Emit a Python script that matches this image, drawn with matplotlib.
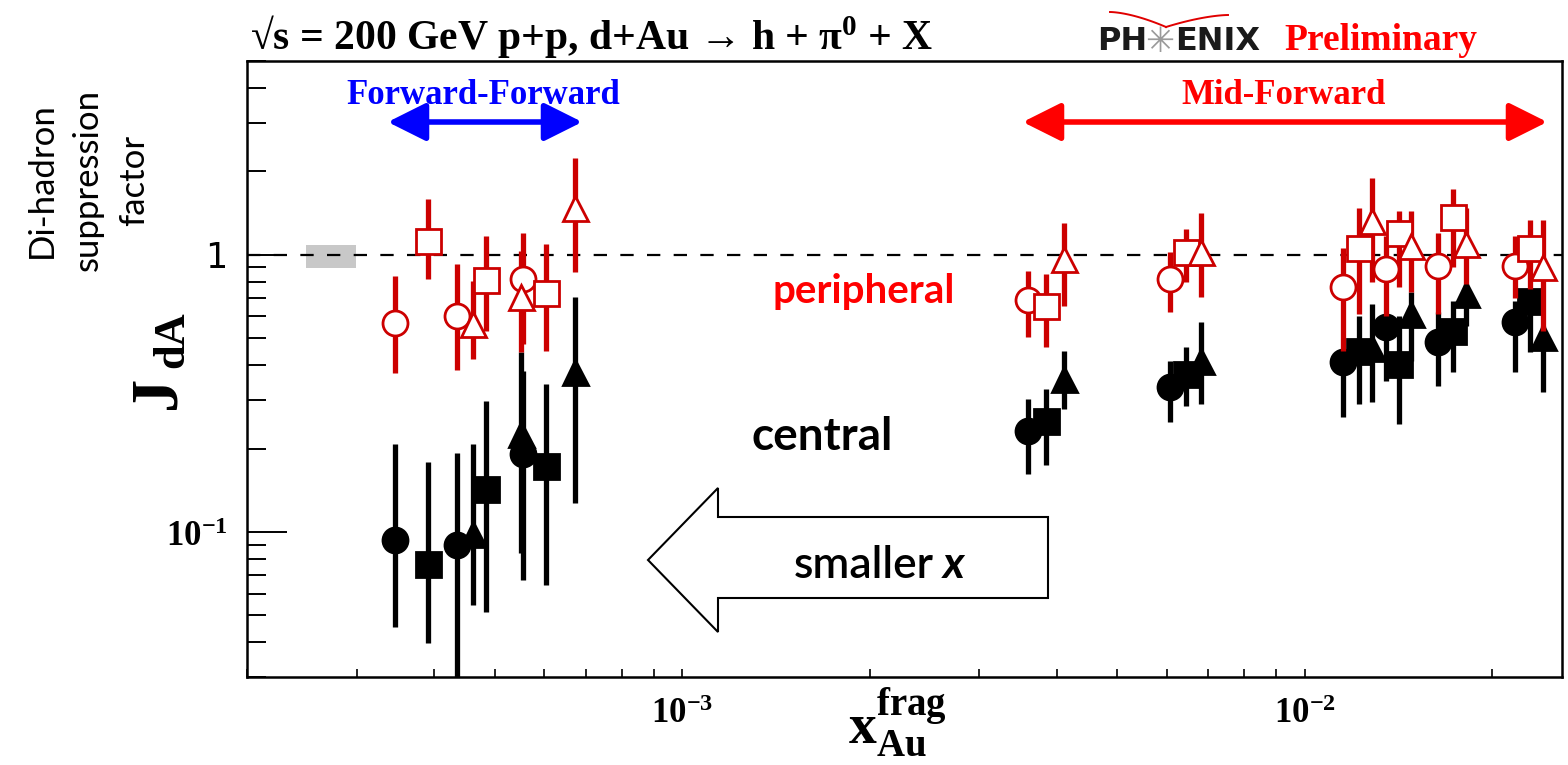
import numpy as np
import matplotlib
matplotlib.use("Agg")
import matplotlib.pyplot as plt
from matplotlib.patches import FancyArrowPatch, Polygon
from matplotlib.ticker import LogLocator, NullFormatter, FixedLocator, FixedFormatter

# ---------- data: x_Au^frag bins (FF: 3 bins, MF: 6 bins) ----------
x_circ = [3.46e-4, 4.35e-4, 5.55e-4, 3.60e-3, 6.08e-3, 1.153e-2, 1.353e-2, 1.638e-2, 2.176e-2]
x_sq   = [3.90e-4, 4.84e-4, 6.04e-4, 3.84e-3, 6.45e-3, 1.221e-2, 1.416e-2, 1.730e-2, 2.300e-2]
x_tri  = [4.61e-4, 5.52e-4, 6.73e-4, 4.10e-3, 6.82e-3, 1.282e-2, 1.479e-2, 1.816e-2, 2.416e-2]

# peripheral d+Au (open red)
per_circ    = [0.569, 0.603, 0.818, 0.687, 0.818, 0.763, 0.888, 0.913, 0.913]
per_circ_lo = [0.376, 0.385, 0.478, 0.504, 0.620, 0.450, 0.603, 0.611, 0.700]
per_circ_hi = [0.840, 0.928, 1.203, 0.876, 1.020, 1.062, 1.170, 1.200, 1.170]
per_sq      = [1.120, 0.813, 0.726, 0.655, 1.020, 1.062, 1.200, 1.363, 1.062]
per_sq_lo   = [0.820, 0.532, 0.451, 0.464, 0.795, 0.611, 0.763, 0.900, 0.750]
per_sq_hi   = [1.590, 1.170, 1.095, 0.852, 1.237, 1.480, 1.440, 1.720, 1.330]
per_tri     = [0.563, 0.702, 1.480, 0.965, 1.020, 1.326, 1.077, 1.093, 0.900]
per_tri_lo  = [0.422, 0.445, 0.864, 0.655, 0.702, 0.795, 0.732, 0.784, 0.530]
per_tri_hi  = [0.806, 1.034, 2.230, 1.307, 1.420, 1.900, 1.440, 1.480, 1.340]

# central d+Au (filled black)
cen_circ    = [0.0934, 0.0897, 0.191, 0.232, 0.333, 0.409, 0.547, 0.483, 0.570]
cen_circ_lo = [0.0455, 0.0250, 0.067, 0.162, 0.249, 0.260, 0.352, 0.337, 0.377]
cen_circ_hi = [0.207, 0.192, 0.382, 0.302, 0.415, 0.457, 0.603, 0.620, 0.683]
cen_sq      = [0.0765, 0.143, 0.173, 0.252, 0.372, 0.451, 0.404, 0.532, 0.683]
cen_sq_lo   = [0.0399, 0.0515, 0.0643, 0.174, 0.286, 0.290, 0.245, 0.377, 0.445]
cen_sq_hi   = [0.179, 0.298, 0.343, 0.328, 0.464, 0.603, 0.603, 0.683, 0.752]
cen_tri     = [0.0986, 0.226, 0.377, 0.357, 0.415, 0.463, 0.611, 0.722, 0.504]
cen_tri_lo  = [0.0545, 0.0837, 0.127, 0.278, 0.290, 0.294, 0.415, 0.555, 0.319]
cen_tri_hi  = [0.208, 0.445, 0.702, 0.451, 0.570, 0.665, 0.732, 0.784, 0.555]

# normalisation uncertainty box at J=1
sys_x = [2.49e-4, 2.99e-4]
sys_lo = [0.895, 0.895]
sys_hi = [1.085, 1.085]

y_ticks = [0.1, 1]
y_ticklabels = [r"$10^{-1}$", "1"]
x_ticks = [1e-3, 1e-2]
x_ticklabels = [r"$10^{-3}$", r"$10^{-2}$"]

# ---------- style ----------
SERIF = "Liberation Serif"
SANS = "Lato"
plt.rcParams["mathtext.fontset"] = "custom"
plt.rcParams["mathtext.rm"] = "Liberation Serif:bold"
plt.rcParams["mathtext.bf"] = "Liberation Serif:bold"
plt.rcParams["mathtext.it"] = "Liberation Serif:bold:italic"

W, H = 1568, 765
fig = plt.figure(figsize=(W / 100, H / 100), dpi=100)

def fx(px): return px / W
def fy(py): return 1 - py / H

ax = fig.add_axes([fx(247), fy(677), fx(1562) - fx(247), fy(61) - fy(677)])
ax.set_xscale("log"); ax.set_yscale("log")
ax.set_xlim(2.0e-4, 2.59e-2)
ax.set_ylim(0.03, 5)

RED = "#cc0000"

def draw(x, y, lo, hi, marker, color, filled):
    y = np.asarray(y); err = [y - np.asarray(lo), np.asarray(hi) - y]
    ax.errorbar(x, y, yerr=err, fmt=marker, ms=18, color=color, ecolor=color,
                elinewidth=3.8, capsize=0, mec=color, mew=2.0,
                mfc=color if filled else "white", zorder=3 if filled else 4)

draw(x_circ, cen_circ, cen_circ_lo, cen_circ_hi, "o", "black", True)
draw(x_sq,   cen_sq,   cen_sq_lo,   cen_sq_hi,   "s", "black", True)
draw(x_tri,  cen_tri,  cen_tri_lo,  cen_tri_hi,  "^", "black", True)
draw(x_circ, per_circ, per_circ_lo, per_circ_hi, "o", RED, False)
draw(x_sq,   per_sq,   per_sq_lo,   per_sq_hi,   "s", RED, False)
draw(x_tri,  per_tri,  per_tri_lo,  per_tri_hi,  "^", RED, False)

ax.fill_between(sys_x, sys_lo, sys_hi, color="#c8c8c8", lw=0, zorder=1)
ax.axhline(1, color="black", lw=1.6, ls=(0, (6, 6)), zorder=2)

# ---------- axes ----------
for s in ax.spines.values():
    s.set_linewidth(1.8)
ax.yaxis.set_major_locator(FixedLocator(y_ticks))
ax.yaxis.set_major_formatter(FixedFormatter(y_ticklabels))
ax.yaxis.set_minor_locator(LogLocator(base=10, subs=np.arange(2, 10)))
ax.yaxis.set_minor_formatter(NullFormatter())
ax.xaxis.set_major_locator(FixedLocator(x_ticks))
ax.xaxis.set_major_formatter(FixedFormatter(x_ticklabels))
ax.xaxis.set_minor_locator(LogLocator(base=10, subs=np.arange(2, 10)))
ax.xaxis.set_minor_formatter(NullFormatter())
ax.tick_params(axis="y", which="major", direction="in", length=29, width=1.4,
               labelsize=25, pad=14, right=False)
ax.tick_params(axis="y", which="minor", direction="in", length=14, width=1.4, right=False)
ax.tick_params(axis="x", which="both", direction="in", length=6, width=1.2,
               labelsize=25, pad=14, top=False)

# ---------- labels ----------
fig.text(fx(158), fy(392), "J", rotation=90, ha="center", va="center",
         fontsize=48, family=SERIF, weight="bold")
fig.text(fx(172), fy(340), "dA", rotation=90, ha="center", va="center",
         fontsize=32, family=SERIF, weight="bold")
fig.text(fx(88), fy(180), "Di-hadron\nsuppression\nfactor", rotation=90,
         ha="center", va="center", fontsize=25, family=SANS, linespacing=1.55)
fig.text(fx(897), fy(722), r"$\mathbf{x}_{\mathrm{Au}}^{\mathrm{frag}}$",
         ha="center", va="center", fontsize=40)

fig.text(fx(250), fy(36), "√s = 200 GeV p+p, d+Au → h + π$^{0}$ + X",
         ha="left", va="center", fontsize=30, family=SERIF, weight="bold")

# PHENIX mark
fig.text(fx(1097), fy(42), "PH", ha="left", va="center", fontsize=23,
         family="DejaVu Sans", weight="bold", color="#1a1a1a")
fig.text(fx(1160), fy(42), "✳", ha="center", va="center", fontsize=25,
         family="DejaVu Sans", color="#9a9a9a")
fig.text(fx(1175), fy(42), "ENIX", ha="left", va="center", fontsize=23,
         family="DejaVu Sans", weight="bold", color="#1a1a1a")
t = np.linspace(0, 1, 40)
arc_l = (1110 + 56 * t, 12 + 15 * t ** 1.6)
arc_r = (1166 + 62 * t, 27 - 12 * (1 - (1 - t) ** 1.6))
for px, py in (arc_l, arc_r):
    fig.add_artist(plt.Line2D(fx(px), fy(py), color="#e00000", lw=1.4,
                              transform=fig.transFigure))
fig.text(fx(1284), fy(40), "Preliminary", ha="left", va="center", fontsize=27,
         family=SERIF, weight="bold", color="#ff0000")

# region arrows
fig.text(fx(483), fy(96), "Forward-Forward", ha="center", va="center",
         fontsize=25, family=SERIF, weight="bold", color="#0000ff")
fig.text(fx(1284), fy(96), "Mid-Forward", ha="center", va="center",
         fontsize=25, family=SERIF, weight="bold", color="#ff0000")
for x0, x1, c in ((385, 585, "#0000ff"), (1020, 1550, "#ff0000")):
    fig.add_artist(FancyArrowPatch((fx(x0), fy(122)), (fx(x1), fy(122)),
                                   transform=fig.transFigure,
                                   arrowstyle="<|-|>,head_length=1.3,head_width=0.65",
                                   mutation_scale=18, lw=4, color=c))

fig.text(fx(864), fy(292), "peripheral", ha="center", va="center",
         fontsize=29, family=SANS, weight="bold", color="#ff0000")
fig.text(fx(822), fy(437), "central", ha="center", va="center",
         fontsize=33, family=SANS, weight="bold", color="black")

# "smaller x" block arrow
pts = [(648, 560), (718, 488), (718, 517), (1048, 517), (1048, 598), (718, 598), (718, 632)]
fig.add_artist(Polygon([(fx(a), fy(b)) for a, b in pts], closed=True,
                       transform=fig.transFigure, facecolor="white",
                       edgecolor="black", lw=1.5))
fig.text(fx(934), fy(565), "smaller", ha="right", va="center", fontsize=32,
         family=SANS, weight="semibold")
fig.text(fx(943), fy(565), "x", ha="left", va="center", fontsize=32,
         family=SANS, weight="bold", style="italic")

fig.savefig("out.png", dpi=100)
